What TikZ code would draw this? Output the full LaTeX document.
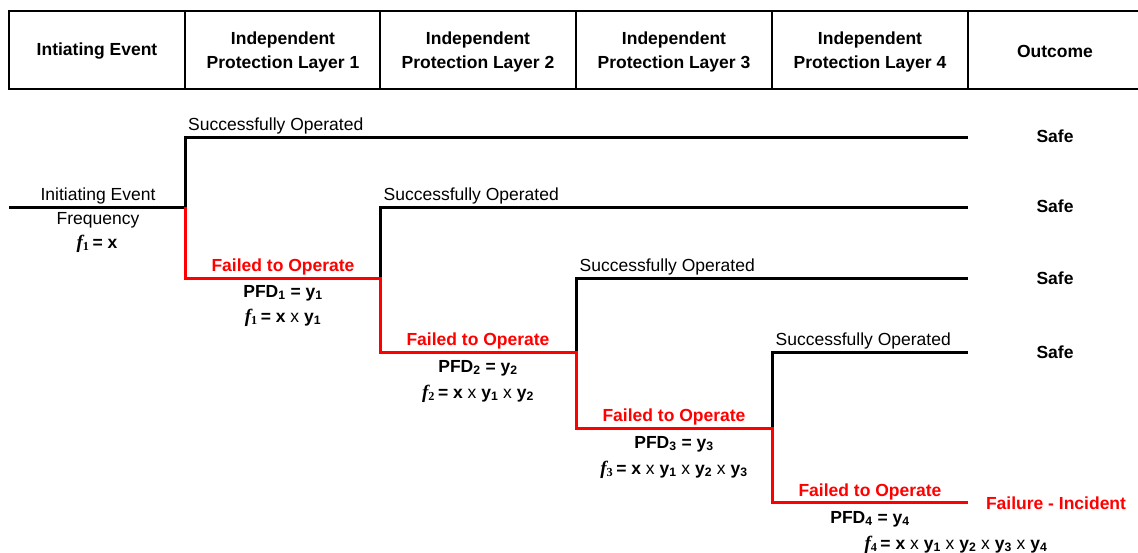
\documentclass[tikz,border=0pt]{standalone}
\usepackage{fontspec}
\setmainfont{Liberation Sans}
\newfontfamily\serifft{Liberation Serif}
\newcommand\fsym[1]{{\serifft\bfseries\itshape\fontsize{19}{21}\selectfont f}\textsubscript{\serifft #1}}
\newcommand\tms{\space{\mdseries x}\space}
\tikzset{
  okline/.style={line width=3pt, black},
  failline/.style={line width=3pt, red},
  frame/.style={line width=2.7pt, black},
  txt/.style={font=\fontsize{17.5}{21}\selectfont, inner sep=0pt, anchor=base},
  btxt/.style={txt, font=\fontsize{17.5}{21}\selectfont\bfseries},
  rtxt/.style={btxt, text=red},
  hdr/.style={font=\fontsize{17.5}{23.5}\selectfont\bfseries, align=center, inner sep=0pt, anchor=center}
}
\begin{document}
\begin{tikzpicture}[x=1pt, y=-1pt]
\useasboundingbox (0,0) rectangle (1138,552);
% header frame
\draw[frame] (1138,11) -- (9,11) -- (9,89) -- (1138,89);
\foreach \xx in {185,380,576,772,968} \draw[frame] (\xx,11) -- (\xx,89);
\node[hdr] (h0) at (97,51) {Intiating Event};
\node[hdr] (h1) at (283,52) {Independent\\Protection Layer 1};
\node[hdr] (h2) at (478,52) {Independent\\Protection Layer 2};
\node[hdr] (h3) at (674,52) {Independent\\Protection Layer 3};
\node[hdr] (h4) at (870,52) {Independent\\Protection Layer 4};
\node[hdr] (h5) at (1055,51) {Outcome};
% junction coordinates
\coordinate (start) at (9,207);
\coordinate (j1) at (185,207);
\coordinate (u1) at (185,137);
\coordinate (e1) at (968,137);
\coordinate (d1) at (185,278);
\coordinate (j2) at (380,278);
\coordinate (u2) at (380,207);
\coordinate (e2) at (968,207);
\coordinate (d2) at (380,352);
\coordinate (j3) at (576,352);
\coordinate (u3) at (576,278);
\coordinate (e3) at (968,278);
\coordinate (d3) at (576,428);
\coordinate (j4) at (772,428);
\coordinate (u4) at (772,352);
\coordinate (e4) at (968,352);
\coordinate (d4) at (772,502);
\coordinate (e5) at (968,502);
% success branches
\draw[okline] (start) -- (j1) -- (u1) -- (e1);
\draw[okline] (j2) -- (u2) -- (e2);
\draw[okline] (j3) -- (u3) -- (e3);
\draw[okline] (j4) -- (u4) -- (e4);
% failure path
\draw[failline] (j1) -- (d1) -- (j2) -- (d2) -- (j3) -- (d3) -- (j4) -- (d4) -- (e5);
% labels
\node[txt] (ie1) at (98,200) {Initiating Event};
\node[txt] (ie2) at (98,224) {Frequency};
\node[btxt] (ie3) at (97,248) {\fsym{1}\,= x};
\node[txt, anchor=base west] (so1) at (188,130.5) {Successfully Operated};
\node[txt, anchor=base west] (so2) at (383.5,200.5) {Successfully Operated};
\node[txt, anchor=base west] (so3) at (579.5,271.5) {Successfully Operated};
\node[txt, anchor=base west] (so4) at (775.5,345.5) {Successfully Operated};
\node[rtxt] (fo1) at (283,271.5) {Failed to Operate};
\node[btxt] (p1) at (283,297) {PFD\textsubscript{1} = y\textsubscript{1}};
\node[btxt] (f1) at (283,322) {\fsym{1}\,= x\tms y\textsubscript{1}};
\node[rtxt] (fo2) at (478,345) {Failed to Operate};
\node[btxt] (p2) at (478,372) {PFD\textsubscript{2} = y\textsubscript{2}};
\node[btxt] (f2) at (478,398) {\fsym{2}\,= x\tms y\textsubscript{1}\tms y\textsubscript{2}};
\node[rtxt] (fo3) at (674,421) {Failed to Operate};
\node[btxt] (p3) at (674,448) {PFD\textsubscript{3} = y\textsubscript{3}};
\node[btxt] (f3) at (674,474) {\fsym{3}\,= x\tms y\textsubscript{1}\tms y\textsubscript{2}\tms y\textsubscript{3}};
\node[rtxt] (fo4) at (870,496) {Failed to Operate};
\node[btxt] (p4) at (870,523) {PFD\textsubscript{4} = y\textsubscript{4}};
\node[btxt] (f4) at (956,549) {\fsym{4}\,= x\tms y\textsubscript{1}\tms y\textsubscript{2}\tms y\textsubscript{3}\tms y\textsubscript{4}};
% outcomes
\node[btxt] (o1) at (1055,142.5) {Safe};
\node[btxt] (o2) at (1055,212.5) {Safe};
\node[btxt] (o3) at (1055,284.5) {Safe};
\node[btxt] (o4) at (1055,358.5) {Safe};
\node[rtxt] (o5) at (1056,509) {Failure - Incident};
\end{tikzpicture}
\end{document}
